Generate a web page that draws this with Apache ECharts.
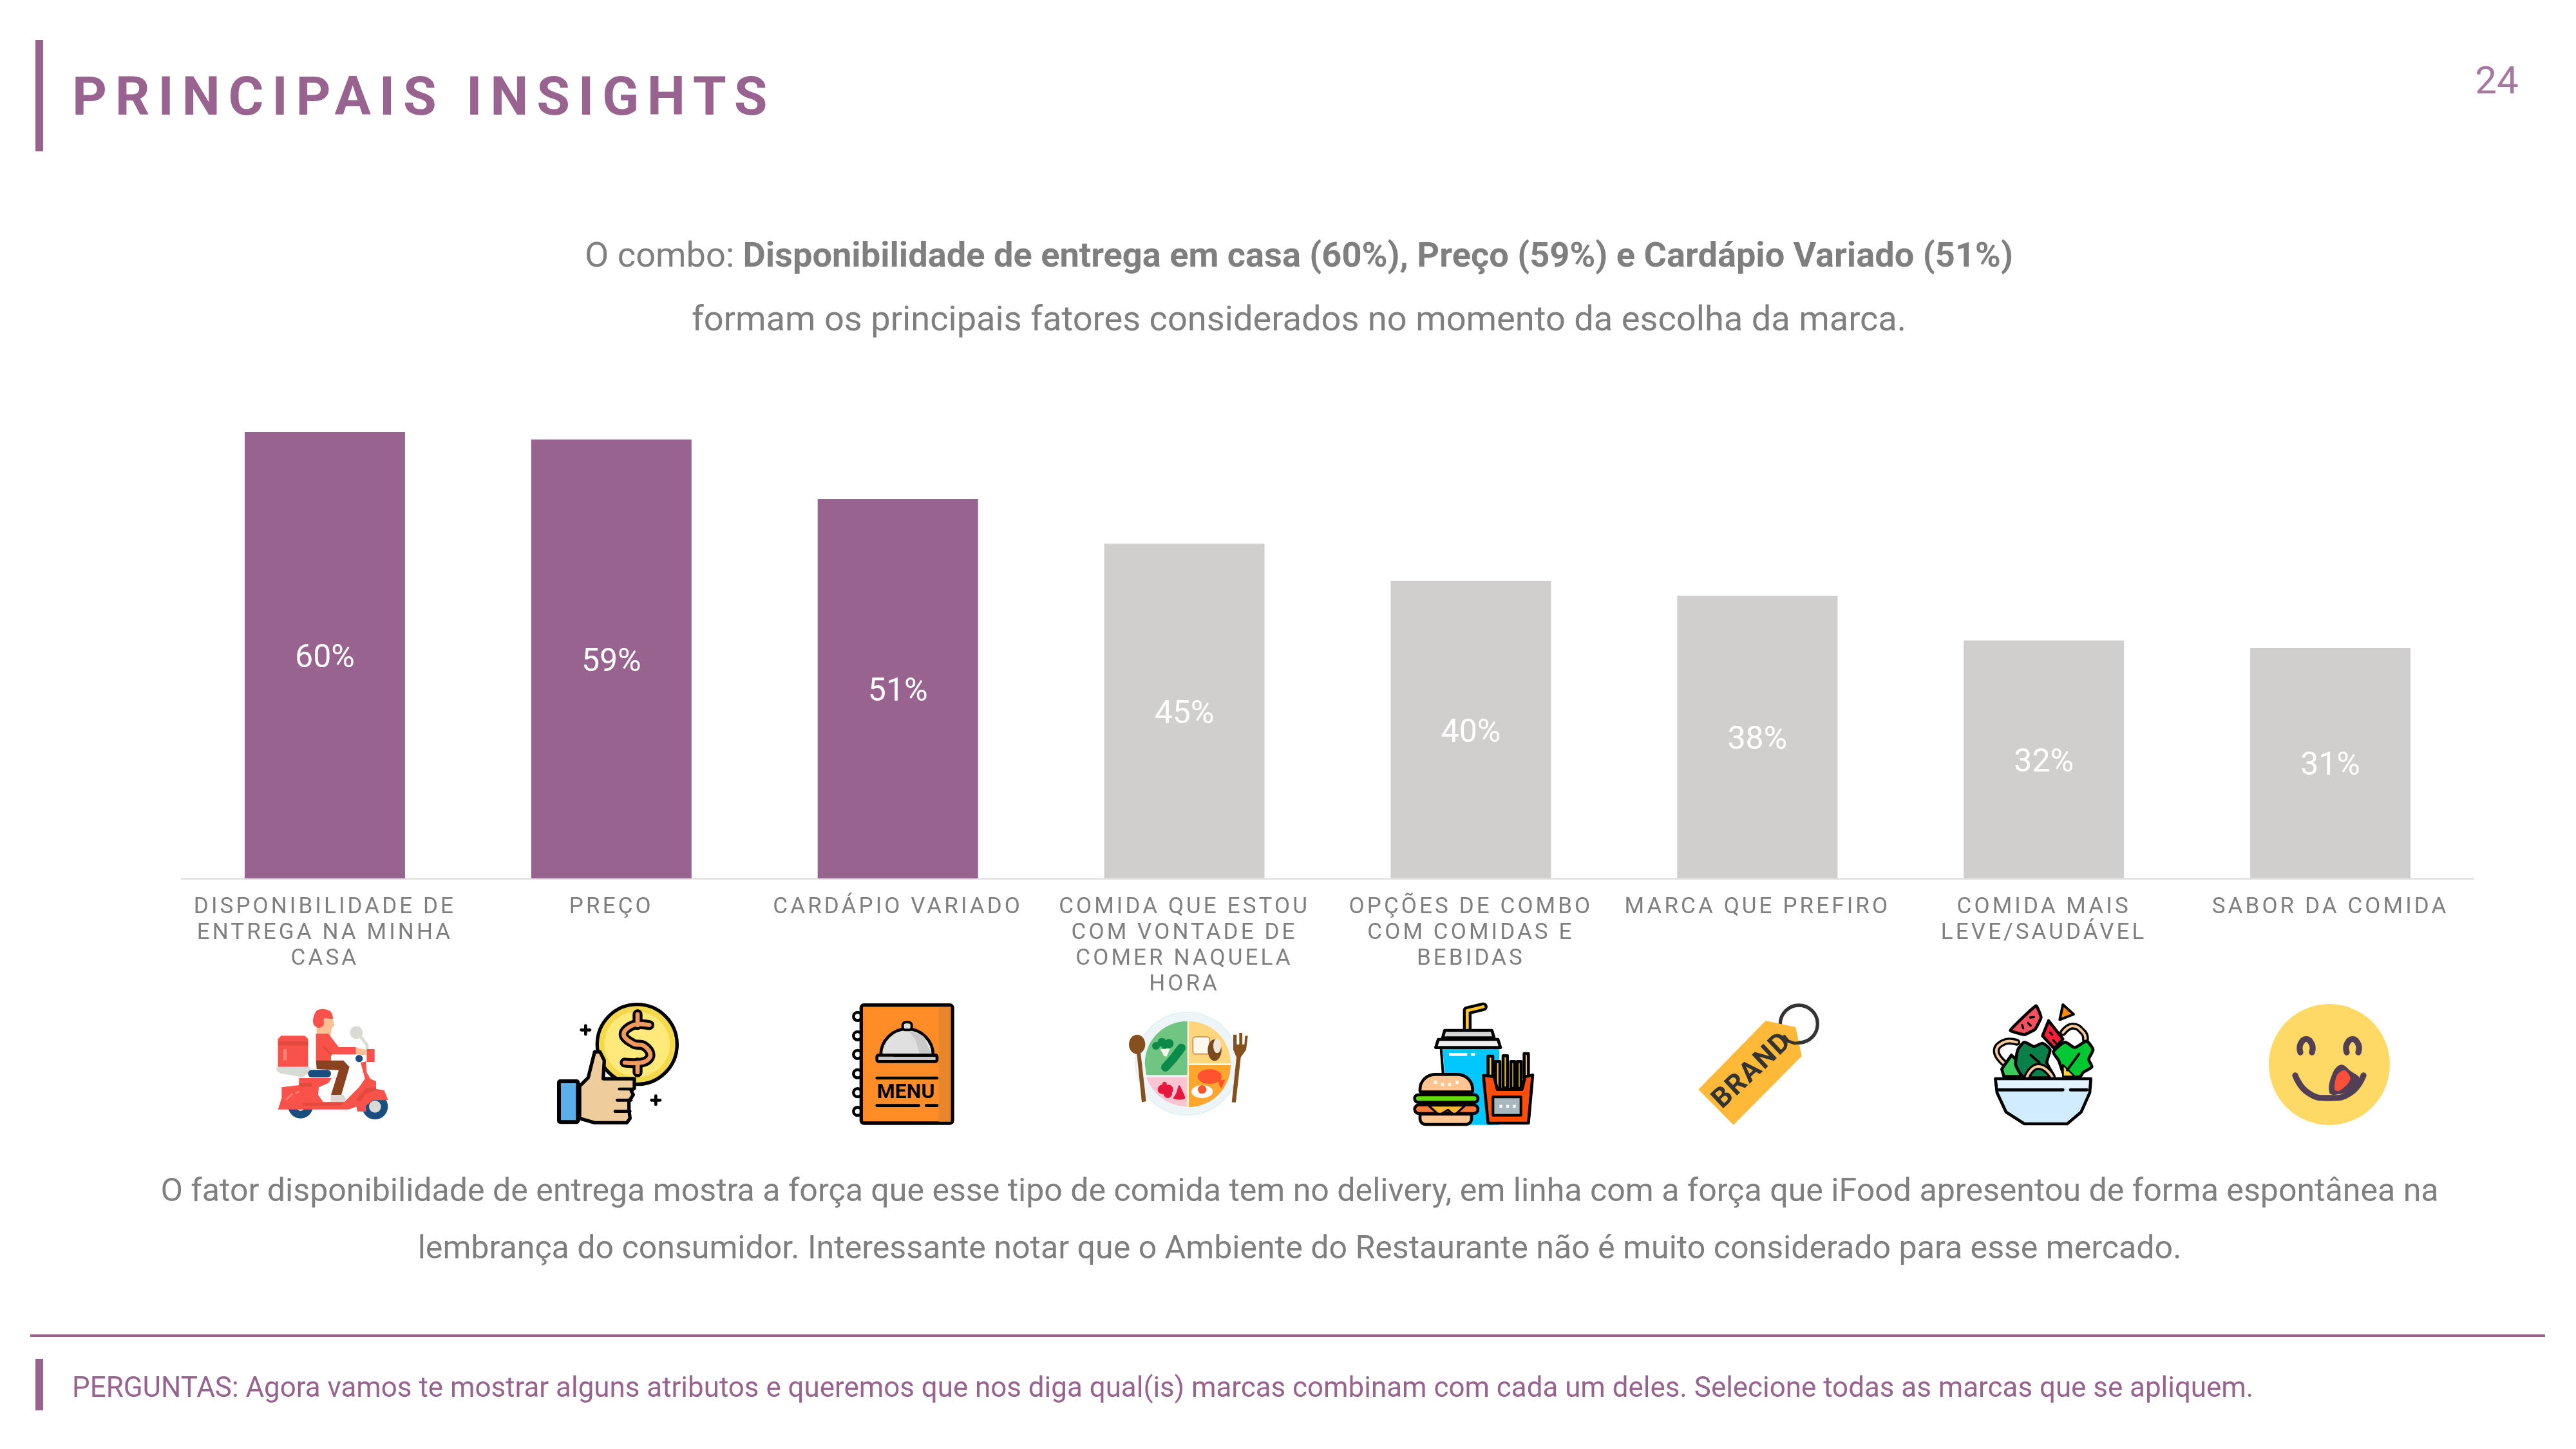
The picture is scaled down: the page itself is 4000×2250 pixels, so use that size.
<!DOCTYPE html>
<html lang="pt-BR">
<head>
<meta charset="utf-8">
<title>Principais Insights</title>
<script src="https://cdn.jsdelivr.net/npm/echarts@6/dist/echarts.min.js"></script>
<style>html,body{margin:0;padding:0;background:#fff}#c{width:4000px;height:2250px}</style>
</head>
<body>
<div id="c"></div>
<script>
const categories = [
  'DISPONIBILIDADE DE\nENTREGA NA MINHA\nCASA',
  'PREÇO',
  'CARDÁPIO VARIADO',
  'COMIDA QUE ESTOU\nCOM VONTADE DE\nCOMER NAQUELA\nHORA',
  'OPÇÕES DE COMBO\nCOM COMIDAS E\nBEBIDAS',
  'MARCA QUE PREFIRO',
  'COMIDA MAIS\nLEVE/SAUDÁVEL',
  'SABOR DA COMIDA'
];
const values = [60, 59, 51, 45, 40, 38, 32, 31];
const highlightedCount = 3;
const titleText = 'PRINCIPAIS INSIGHTS';
const pageNumber = '24';
const subtitleLead = 'O combo: ';
const subtitleBold = 'Disponibilidade de entrega em casa (60%), Preço (59%) e Cardápio Variado (51%)';
const subtitleLine2 = 'formam os principais fatores considerados no momento da escolha da marca.';
const bodyLine1 = 'O fator disponibilidade de entrega mostra a força que esse tipo de comida tem no delivery, em linha com a força que iFood apresentou de forma espontânea na';
const bodyLine2 = 'lembrança do consumidor. Interessante notar que o Ambiente do Restaurante não é muito considerado para esse mercado.';
const footerText = 'PERGUNTAS: Agora vamos te mostrar alguns atributos e queremos que nos diga qual(is) marcas combinam com cada um deles. Selecione todas as marcas que se apliquem.';

const PURPLE = '#98648F', GREY = '#D0CFCD', TEXT = '#7F7F7F', FONT = 'Roboto';

// Letter spacing: the canvas context supports it natively, zrender does not expose it.
const spacingByText = new Map();
spacingByText.set(titleText, '12.7px');
spacingByText.set('BRAND', '6px');
categories.forEach(c => c.split('\n').forEach(l => spacingByText.set(l, '4.1px')));
const nativeFillText = CanvasRenderingContext2D.prototype.fillText;
CanvasRenderingContext2D.prototype.fillText = function (t, x, y, m) {
  const s = spacingByText.get(t);
  if (s) {
    this.save();
    this.letterSpacing = s;
    m === undefined ? nativeFillText.call(this, t, x, y) : nativeFillText.call(this, t, x, y, m);
    this.restore();
  } else {
    m === undefined ? nativeFillText.call(this, t, x, y) : nativeFillText.call(this, t, x, y, m);
  }
};

// Shape helpers for the pictograms (drawn in a 600-unit box, scaled by 1/3)
const st = (fill, stroke, lw) => ({fill: fill || 'none', stroke: stroke || 'none', lineWidth: lw || 0, lineJoin: 'round', lineCap: 'round'});
const R = (x, y, w, h, fill, stroke, lw, r) => ({type: 'rect', shape: {x, y, width: w, height: h, r: r || 0}, style: st(fill, stroke, lw)});
const C = (cx, cy, r, fill, stroke, lw) => ({type: 'circle', shape: {cx, cy, r}, style: st(fill, stroke, lw)});
const E = (cx, cy, rx, ry, fill, stroke, lw) => ({type: 'ellipse', shape: {cx, cy, rx, ry}, style: st(fill, stroke, lw)});
const P = (points, fill, stroke, lw, smooth) => ({type: 'polygon', shape: {points, smooth: smooth || 0}, style: st(fill, stroke, lw)});
const L = (points, stroke, lw, smooth) => ({type: 'polyline', shape: {points, smooth: smooth || 0}, style: st(null, stroke, lw)});
const S = (cx, cy, r, a0, a1, fill, stroke, lw) => ({type: 'sector', shape: {cx, cy, r, r0: 0, startAngle: a0, endAngle: a1, clockwise: true}, style: st(fill, stroke, lw)});
const T = (text, x, y, size, fill, rotation) => ({type: 'text', x, y, rotation: rotation || 0, style: {text, x: 0, y: 0, fontSize: size, fontWeight: 700, fontFamily: FONT, fill, align: 'center', verticalAlign: 'middle', textAlign: 'center', textVerticalAlign: 'middle'}});
const icon = (x, y, children) => ({type: 'group', x, y, scaleX: 1 / 3, scaleY: 1 / 3, silent: true, children});
const PI = Math.PI;

const scooter = () => {
  const red = '#F9524A', dk = '#E34A3F', bl = '#1A4D80', gy = '#D9D9D5', sk = '#FDBF92';
  return [
    C(140, 502, 58, bl), C(487, 505, 60, bl), C(487, 505, 28, gy), C(140, 505, 20, gy),
    P([[35, 320], [35, 190], [50, 175], [160, 175], [175, 190], [175, 320]], red),
    R(35, 200, 140, 20, dk), R(60, 237, 16, 52, '#FB8075'),
    P([[28, 320], [185, 320], [185, 345], [150, 368], [45, 350], [28, 335]], gy),
    P([[250, 95], [288, 95], [298, 125], [285, 140], [280, 172], [215, 172], [215, 130]], sk),
    P([[198, 100], [215, 58], [245, 50], [280, 62], [290, 95], [250, 95], [248, 125], [225, 138], [203, 125]], red, null, 0, 0.3),
    C(400, 160, 30, gy), L([[420, 180], [450, 218], [450, 240]], gy, 14),
    R(448, 237, 37, 60, red),
    P([[398, 230], [445, 240], [445, 265], [398, 262]], sk),
    P([[212, 165], [270, 165], [318, 228], [398, 228], [398, 262], [282, 262], [282, 292], [212, 292]], red),
    L([[248, 225], [282, 262]], dk, 10),
    P([[133, 372], [285, 372], [270, 395], [225, 415], [222, 450], [245, 483], [345, 483], [415, 412], [440, 375], [420, 300], [445, 295], [448, 345], [465, 375], [492, 388], [492, 422], [530, 430], [548, 475], [480, 475], [445, 500], [445, 528], [405, 528], [400, 505], [365, 518], [35, 518], [52, 465], [52, 415], [133, 405]], red),
    P([[148, 488], [340, 488], [325, 500], [148, 500]], dk),
    R(133, 395, 60, 17, dk),
    P([[400, 470], [445, 420], [492, 415], [492, 428], [445, 445], [420, 480], [405, 480]], dk),
    P([[212, 290], [340, 290], [368, 320], [330, 450], [282, 450], [318, 335], [215, 330]], '#8B4220'),
    P([[282, 450], [340, 450], [352, 470], [345, 483], [280, 483]], gy),
    R(175, 334, 107, 35, bl, null, 0, 17),
    C(413, 281, 17, bl),
    L([[75, 470], [100, 447]], '#FB8075', 8), L([[120, 442], [132, 436]], '#FB8075', 8)
  ];
};

const thumb = () => {
  const orange = '#F09A62', pts = [[445, 125], [370, 125], [325, 168], [370, 212], [420, 222], [450, 265], [420, 297], [330, 300]];
  return [
    C(388, 215, 186, '#F3D94B', '#000', 16), C(388, 215, 152, '#FFE97A'),
    L([[390, 75], [390, 125]], '#000', 46), L([[390, 300], [390, 345]], '#000', 46),
    L(pts, '#000', 46, 0.4),
    L([[390, 75], [390, 125]], orange, 20), L([[390, 300], [390, 345]], orange, 20),
    L(pts, orange, 20, 0.4),
    L([[128, 148], [168, 148]], '#000', 14), L([[148, 128], [148, 168]], '#000', 14),
    L([[455, 475], [495, 475]], '#000', 14), L([[475, 455], [475, 495]], '#000', 14),
    P([[120, 410], [160, 370], [190, 250], [215, 250], [235, 290], [230, 375], [375, 375], [375, 420], [360, 430], [370, 450], [350, 480], [350, 520], [355, 560], [340, 580], [190, 580], [120, 560]], '#EFCC9B', '#000', 16),
    L([[305, 423], [370, 423]], '#000', 14), L([[295, 475], [360, 475]], '#000', 14), L([[285, 527], [355, 527]], '#000', 14),
    R(24, 387, 88, 190, '#5AAEEA', '#000', 18, 6)
  ];
};

const menu = () => {
  const rings = [85, 175, 262, 352, 440, 527].map(y => C(95, y, 19, '#fff', '#000', 14));
  return rings.concat([
    R(112, 32, 425, 550, '#FF8C26', '#000', 16, 12),
    R(473, 40, 56, 535, '#E9852A'),
    S(325, 265, 122, PI, 2 * PI, '#E0E0E0', '#000', 14),
    P([[330, 150], [400, 175], [440, 262], [385, 262], [365, 195]], '#C9C9C9'),
    R(305, 112, 42, 36, '#E0E0E0', '#000', 12, 14),
    R(185, 265, 280, 30, '#C8C8C8', '#000', 14, 8),
    L([[265, 265], [460, 265]], '#000', 14),
    L([[185, 372], [465, 372]], '#000', 14),
    L([[185, 500], [380, 500]], '#000', 14), L([[415, 500], [465, 500]], '#000', 14),
    T('MENU', 320, 440, 96, '#000')
  ]);
};

const plate = () => {
  const plateC = '#EDF5F8', brown = '#85501E', dg = '#0B8A4A', fruit = '#E5173F', fish = '#FF5230';
  return [
    C(295, 305, 240, plateC, '#DDEEF3', 4),
    S(296, 305, 200, PI / 2, PI, '#FDC4D3'),
    R(85, 300, 212, 68, plateC),
    S(296, 305, 198, PI, 1.5 * PI, '#6FC581'),
    P([[98, 303], [296, 303], [296, 358], [105, 358]], '#6FC581'),
    S(303, 303, 195, 1.5 * PI, 2 * PI, '#FDD57D'),
    S(303, 312, 195, 0, PI / 2, '#FFA62E'),
    C(150, 222, 18, dg), C(178, 205, 20, dg), C(210, 212, 22, dg), C(190, 220, 16, dg),
    P([[170, 238], [215, 235], [200, 272], [188, 270]], '#F5F7F0'),
    L([[268, 232], [232, 280], [194, 322]], dg, 40),
    R(322, 180, 78, 80, '#FFF8EE', '#C98B4E', 5, 12),
    E(423, 242, 32, 50, '#7B4A1E'), E(435, 222, 18, 34, '#EDE7DC'),
    E(400, 365, 56, 34, fish),
    P([[440, 380], [472, 380], [455, 420], [445, 405]], fish),
    E(365, 435, 50, 30, '#FFFFFF'), C(365, 425, 20, fish),
    C(180, 425, 22, fruit), C(208, 425, 22, fruit), C(205, 445, 20, fruit), C(190, 400, 10, fruit),
    P([[258, 405], [245, 440], [232, 468], [285, 468], [272, 430]], fruit, null, 0, 0.3),
    E(62, 215, 38, 45, brown),
    P([[60, 250], [78, 250], [104, 480], [84, 485]], brown),
    P([[510, 170], [526, 170], [526, 215], [538, 215], [538, 162], [552, 162], [552, 215], [562, 215], [565, 175], [578, 175], [570, 240], [545, 275], [522, 485], [503, 485], [525, 275], [510, 240]], brown)
  ];
};

const combo = () => {
  const fy = '#FFC92E', bun = '#FFC48F', k = '#000';
  const fries = [[362, 270, 22, 115], [397, 295, 20, 125], [432, 268, 20, 150], [468, 295, 18, 125], [498, 295, 18, 125], [530, 258, 20, 115]]
    .map(f => R(f[0], f[1], f[2], f[3], fy, k, 14));
  return [
    L([[265, 145], [265, 58], [340, 40]], k, 40),
    L([[265, 145], [265, 58], [340, 40]], fy, 14),
    P([[150, 235], [415, 235], [415, 590], [180, 590]], '#00C8FF', k, 0),
    L([[143, 235], [152, 350]], k, 12),
    R(180, 255, 85, 14, '#fff'), R(283, 255, 18, 14, '#fff'),
    P([[160, 150], [380, 150], [390, 185], [150, 185]], '#D8D8D8', k, 14),
    P([[130, 192], [408, 192], [420, 230], [118, 230]], '#EEEEEE', k, 14)
  ].concat(fries).concat([
    P([[340, 360], [390, 365], [405, 425], [520, 425], [535, 365], [570, 358], [550, 582], [362, 582]], '#FF4E0C', k, 14),
    R(385, 460, 130, 85, '#A8B6BE', k, 12),
    R(415, 497, 13, 13, '#fff'), R(447, 497, 13, 13, '#fff'), R(478, 497, 13, 13, '#fff'),
    R(45, 355, 245, 82, bun, k, 14, [70, 70, 4, 4]),
    R(110, 385, 14, 14, '#fff'), R(143, 395, 14, 14, '#fff'), R(176, 395, 14, 14, '#fff'), R(211, 385, 14, 14, '#fff'),
    R(20, 450, 295, 35, '#66DD00', k, 14, 17),
    R(20, 497, 295, 40, '#FF7B3B', k, 14, 20),
    P([[85, 500], [255, 500], [205, 545], [175, 520], [135, 545]], '#FFB52E', k, 10),
    R(45, 540, 240, 48, bun, k, 14, [4, 4, 26, 26])
  ]);
};

const tag = () => [
  C(490, 120, 87, null, '#333333', 16),
  P([[335, 105], [475, 135], [503, 270], [185, 590], [22, 425]], '#FFB938'),
  L([[422, 178], [440, 200], [470, 210], [512, 206]], '#333333', 14),
  T('BRAND', 275, 340, 128, '#333333', PI * 0.24)
];

const salad = () => {
  const k = '#000', beige = '#F7C99B';
  const arcs = [
    [[120, 310], [75, 250], [110, 205], [170, 205]],
    [[385, 160], [430, 130], [480, 160], [490, 192]]
  ];
  const out = [
    P([[260, 35], [283, 90], [255, 145], [205, 170], [140, 150]], '#F5505F', k, 14, 0.1),
    L([[232, 90], [250, 88]], k, 10), L([[195, 125], [200, 140]], k, 10), L([[222, 115], [235, 128]], k, 10),
    P([[385, 30], [435, 75], [370, 100]], '#FF8C00', k, 12)
  ];
  arcs.forEach(a => { out.push(L(a, k, 32, 0.5)); out.push(L(a, beige, 12, 0.5)); });
  return out.concat([
    P([[318, 105], [385, 190], [345, 235], [290, 175]], '#FF2038', k, 14),
    L([[325, 160], [335, 170]], k, 10), L([[340, 195], [352, 210]], k, 10),
    P([[110, 365], [100, 330], [145, 265], [180, 300], [190, 365]], '#3CCB5A', k, 14),
    P([[175, 240], [205, 205], [250, 225], [290, 210], [325, 240], [310, 300], [340, 365], [200, 365], [165, 310]], '#0B7F49', k, 14, 0.2),
    L([[235, 265], [275, 300]], k, 12),
    P([[340, 250], [395, 205], [440, 230], [495, 200], [525, 240], [505, 285], [520, 320], [480, 345], [465, 365], [395, 365], [365, 290]], '#00C832', k, 14, 0.2),
    P([[385, 310], [440, 365], [385, 365]], '#FFD23F', k, 8),
    L([[405, 335], [460, 260]], k, 12),
    L([[218, 365], [270, 318], [335, 365]], k, 32, 0.6), L([[218, 365], [270, 318], [335, 365]], beige, 12, 0.6),
    P([[70, 375], [515, 375], [510, 440], [470, 530], [405, 585], [205, 585], [120, 530], [78, 440]], '#D1ECFF', k, 14),
    R(82, 385, 420, 34, '#E3F3FF'),
    L([[85, 427], [385, 427]], k, 14), L([[420, 427], [497, 427]], k, 14)
  ]);
};

const smile = () => {
  const dk = '#533F55';
  return [
    C(300, 309, 282, '#FFD966'),
    L([[165, 252], [165, 215], [192, 190], [219, 215], [219, 252]], dk, 28, 0.5),
    L([[381, 252], [381, 215], [408, 190], [435, 215], [435, 252]], dk, 28, 0.5),
    L([[141, 360], [200, 440], [300, 465], [400, 440], [459, 360]], dk, 28, 0.5),
    P([[300, 440], [315, 350], [355, 310], [400, 340], [440, 375], [400, 425], [340, 448]], dk, null, 0, 0.4),
    P([[325, 425], [335, 360], [370, 335], [398, 370], [385, 400], [345, 432]], '#FF4F38', null, 0, 0.3)
  ];
};

const lineText = (text, x, y, size, fill, align, weight) => ({
  type: 'text', silent: true,
  style: {text, x, y, fontSize: size, fontFamily: FONT, fontWeight: weight || 400, fill,
          align: align || 'center', verticalAlign: 'middle', textAlign: align || 'center', textVerticalAlign: 'middle'}
});

const graphicElements = [
  {type: 'rect', silent: true, shape: {x: 55, y: 62, width: 12, height: 173}, style: {fill: PURPLE}},
  {type: 'rect', silent: true, shape: {x: 55, y: 2110, width: 12, height: 80}, style: {fill: PURPLE}},
  {type: 'rect', silent: true, shape: {x: 47, y: 2072, width: 3905, height: 4}, style: {fill: PURPLE}},
  lineText(titleText, 112, 157, 84, PURPLE, 'left', 700),
  lineText(pageNumber, 3877, 130, 60, '#A777A0'),
  {type: 'text', silent: true, style: {
    text: '{a|' + subtitleLead + '}{b|' + subtitleBold + '}', x: 2017, y: 400,
    align: 'center', verticalAlign: 'middle', textAlign: 'center', textVerticalAlign: 'middle',
    rich: {
      a: {fontSize: 54.2, fontFamily: FONT, fontWeight: 400, fill: TEXT, color: TEXT},
      b: {fontSize: 54.2, fontFamily: FONT, fontWeight: 700, fill: TEXT, color: TEXT}
    }
  }},
  lineText(subtitleLine2, 2017, 499, 54.2, TEXT),
  lineText(bodyLine1, 2018, 1852, 50.1, TEXT),
  lineText(bodyLine2, 2018, 1941, 50.1, TEXT),
  lineText(footerText, 112, 2158, 43.9, PURPLE, 'left'),
  icon(420, 1550, scooter()),
  icon(860, 1550, thumb()),
  icon(1300, 1550, menu()),
  icon(1745, 1550, plate()),
  icon(2190, 1550, combo()),
  icon(2630, 1550, tag()),
  icon(3075, 1550, salad()),
  icon(3517, 1550, smile())
];

const chart = echarts.init(document.getElementById('c'), null, {renderer: 'canvas', width: 4000, height: 2250});
chart.setOption({
  animation: false,
  backgroundColor: '#FFFFFF',
  grid: {left: 282, right: 159, top: 671, bottom: 886, containLabel: false},
  xAxis: {
    type: 'category', data: categories,
    axisLine: {show: true, lineStyle: {color: '#E5E5E5', width: 3}},
    axisTick: {show: false},
    axisLabel: {interval: 0, color: TEXT, fontFamily: FONT, fontSize: 35, lineHeight: 40, margin: 25, fontWeight: 400, align: 'center', verticalAlign: 'top'}
  },
  yAxis: {type: 'value', min: 0, max: 60, show: false, splitLine: {show: false}},
  series: [{
    type: 'bar', data: values, barWidth: 249,
    itemStyle: {color: p => p.dataIndex < highlightedCount ? PURPLE : GREY},
    label: {show: true, position: 'inside', offset: [0, 6], formatter: '{c}%', color: '#FFFFFF', fontFamily: FONT, fontSize: 50}
  }],
  graphic: {elements: graphicElements}
});
</script>
</body>
</html>
